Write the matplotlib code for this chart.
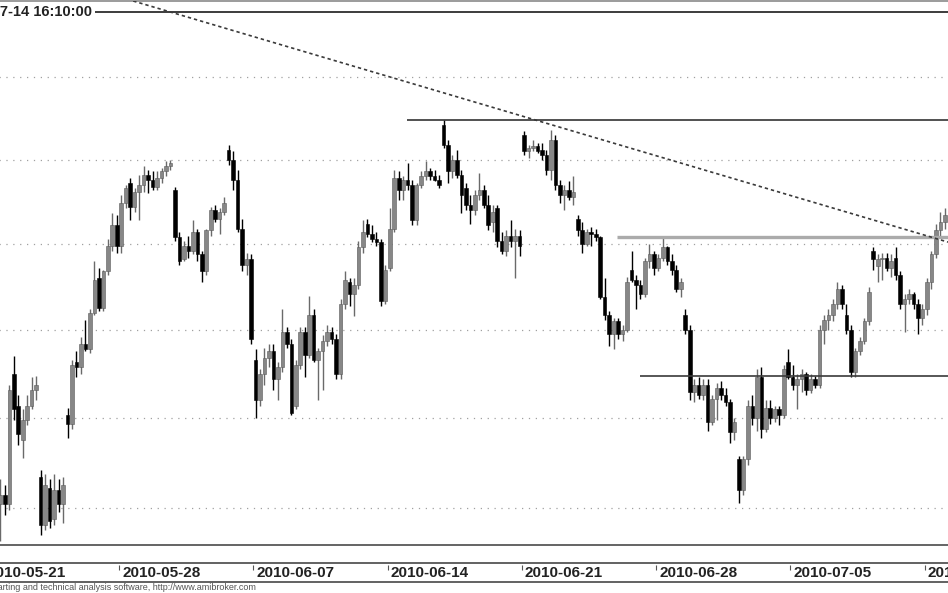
import numpy as np
import matplotlib
matplotlib.use('Agg')
import matplotlib.pyplot as plt
from matplotlib.ticker import NullLocator

plt.rcParams['font.family'] = ['Liberation Sans', 'DejaVu Sans']

# sesje (dni notowan) i liczba swiec na sesje
days = ['2010-05-21', '2010-05-24', '2010-05-25', '2010-05-26', '2010-05-27',
        '2010-05-28', '2010-05-31', '2010-06-01', '2010-06-02', '2010-06-04',
        '2010-06-07', '2010-06-08', '2010-06-09', '2010-06-10', '2010-06-11',
        '2010-06-14', '2010-06-15', '2010-06-16', '2010-06-17', '2010-06-18',
        '2010-06-21', '2010-06-22', '2010-06-23', '2010-06-24', '2010-06-25',
        '2010-06-28', '2010-06-29', '2010-06-30', '2010-07-01', '2010-07-02',
        '2010-07-05', '2010-07-06', '2010-07-07', '2010-07-08', '2010-07-09',
        '2010-07-12']
bars_per_day = 6
tick_dates = ['2010-05-21', '2010-05-28', '2010-06-07', '2010-06-14',
              '2010-06-21', '2010-06-28', '2010-07-05', '2010-07-12']
title_text = '2010-07-14 16:10:00'
footer_text = 'AmiBroker - charting and technical analysis software, http://www.amibroker.com'

# OHLC, po 6 swiec na sesje
opens = [2254, 2249, 2243, 2252, 2257, 2252,
         2325, 2307, 2288, 2299, 2307, 2316,
         2267, 2241, 2261, 2244, 2260, 2252,
         2302, 2297, 2332, 2329, 2342, 2339,
         2360, 2380, 2363, 2384, 2399, 2411,
         2399, 2424, 2436, 2422, 2431, 2435,
         2441, 2438, 2434, 2439, 2443, 2446,
         2432, 2404, 2391, 2399, 2396, 2407,
         2394, 2384, 2408, 2420, 2415, 2419,
         2456, 2450, 2438, 2409, 2388, 2391,
         2333, 2310, 2325, 2334, 2338, 2322,
         2329, 2349, 2342, 2307, 2330, 2349,
         2336, 2359, 2333, 2338, 2344, 2349,
         2345, 2325, 2365, 2378, 2371, 2376,
         2398, 2412, 2406, 2403, 2401, 2367,
         2386, 2409, 2439, 2432, 2438, 2435,
         2414, 2435, 2440, 2443, 2440, 2438,
         2471, 2459, 2443, 2450, 2441, 2433,
         2423, 2420, 2429, 2432, 2423, 2413,
         2421, 2402, 2396, 2405, 2402, 2405,
         2465, 2455, 2457, 2458, 2456, 2453,
         2444, 2462, 2435, 2429, 2432, 2428,
         2415, 2408, 2400, 2407, 2406, 2404,
         2369, 2359, 2348, 2355, 2348, 2350,
         2385, 2379, 2376, 2371, 2390, 2394,
         2386, 2392, 2398, 2390, 2385, 2374,
         2359, 2350, 2315, 2319, 2313, 2319,
         2298, 2311, 2317, 2313, 2309, 2292,
         2277, 2260, 2277, 2307, 2300, 2323,
         2294, 2306, 2300, 2305, 2302, 2332,
         2323, 2319, 2322, 2325, 2316, 2322,
         2319, 2350, 2356, 2359, 2365, 2374,
         2359, 2350, 2326, 2338, 2344, 2355,
         2396, 2387, 2391, 2392, 2386, 2392,
         2382, 2365, 2368, 2371, 2365, 2357,
         2362, 2378, 2394, 2408, 2413, 2417]
highs = [2271, 2260, 2257, 2266, 2263, 2319,
         2335, 2313, 2305, 2313, 2323, 2324,
         2271, 2269, 2266, 2269, 2266, 2267,
         2306, 2333, 2338, 2346, 2356, 2362,
         2390, 2386, 2385, 2403, 2418, 2417,
         2429, 2435, 2439, 2433, 2441, 2446,
         2444, 2443, 2443, 2445, 2449, 2450,
         2434, 2407, 2402, 2405, 2414, 2409,
         2396, 2409, 2422, 2423, 2421, 2428,
         2459, 2455, 2444, 2415, 2395, 2394,
         2339, 2328, 2340, 2342, 2342, 2332,
         2362, 2352, 2345, 2333, 2352, 2352,
         2370, 2362, 2340, 2347, 2353, 2352,
         2348, 2368, 2384, 2380, 2380, 2402,
         2414, 2415, 2411, 2407, 2403, 2388,
         2421, 2444, 2443, 2440, 2448, 2438,
         2436, 2443, 2449, 2445, 2444, 2441,
         2474, 2462, 2453, 2456, 2444, 2436,
         2429, 2432, 2442, 2435, 2429, 2423,
         2423, 2407, 2408, 2414, 2409, 2408,
         2467, 2459, 2462, 2460, 2460, 2456,
         2468, 2465, 2438, 2435, 2437, 2440,
         2417, 2413, 2409, 2410, 2409, 2405,
         2380, 2361, 2357, 2357, 2353, 2381,
         2396, 2382, 2379, 2392, 2400, 2396,
         2394, 2405, 2399, 2394, 2388, 2380,
         2362, 2353, 2322, 2323, 2322, 2322,
         2313, 2320, 2321, 2317, 2311, 2300,
         2279, 2279, 2310, 2313, 2328, 2329,
         2310, 2310, 2307, 2307, 2330, 2339,
         2330, 2325, 2328, 2326, 2325, 2324,
         2353, 2359, 2362, 2368, 2378, 2376,
         2365, 2353, 2340, 2346, 2357, 2375,
         2398, 2394, 2395, 2395, 2394, 2398,
         2384, 2371, 2374, 2372, 2368, 2365,
         2380, 2396, 2412, 2419, 2421, 2420]
lows = [2238, 2235, 2232, 2232, 2246, 2249,
        2299, 2285, 2278, 2296, 2305, 2310,
        2235, 2238, 2239, 2241, 2248, 2242,
        2289, 2294, 2323, 2325, 2338, 2337,
        2359, 2361, 2361, 2382, 2396, 2395,
        2395, 2421, 2414, 2419, 2414, 2431,
        2430, 2432, 2432, 2436, 2440, 2444,
        2402, 2388, 2390, 2392, 2394, 2390,
        2378, 2382, 2405, 2413, 2406, 2417,
        2447, 2432, 2407, 2384, 2382, 2342,
        2300, 2307, 2319, 2329, 2316, 2310,
        2326, 2340, 2302, 2305, 2328, 2323,
        2334, 2332, 2310, 2316, 2341, 2342,
        2322, 2322, 2362, 2364, 2358, 2374,
        2395, 2404, 2401, 2399, 2364, 2365,
        2384, 2407, 2426, 2426, 2432, 2411,
        2411, 2433, 2438, 2438, 2437, 2433,
        2457, 2436, 2439, 2439, 2418, 2420,
        2412, 2417, 2426, 2421, 2408, 2407,
        2398, 2394, 2393, 2398, 2380, 2393,
        2453, 2451, 2455, 2454, 2450, 2441,
        2438, 2432, 2424, 2420, 2426, 2423,
        2405, 2395, 2399, 2399, 2402, 2368,
        2356, 2341, 2339, 2345, 2344, 2349,
        2378, 2362, 2368, 2369, 2386, 2382,
        2384, 2390, 2388, 2382, 2372, 2369,
        2348, 2310, 2309, 2311, 2310, 2293,
        2296, 2299, 2310, 2307, 2286, 2288,
        2253, 2257, 2274, 2296, 2293, 2289,
        2292, 2297, 2298, 2296, 2300, 2322,
        2316, 2305, 2315, 2313, 2314, 2317,
        2317, 2342, 2350, 2355, 2362, 2362,
        2348, 2323, 2323, 2336, 2342, 2353,
        2385, 2378, 2379, 2384, 2381, 2379,
        2362, 2349, 2365, 2362, 2348, 2353,
        2359, 2374, 2392, 2405, 2409, 2405]
closes = [2249, 2243, 2252, 2257, 2252, 2316,
          2305, 2291, 2299, 2307, 2316, 2319,
          2241, 2263, 2243, 2260, 2252, 2263,
          2297, 2330, 2329, 2342, 2339, 2360,
          2379, 2363, 2384, 2399, 2411, 2399,
          2424, 2433, 2422, 2431, 2435, 2441,
          2438, 2434, 2439, 2443, 2446, 2448,
          2404, 2390, 2399, 2396, 2407, 2394,
          2384, 2408, 2420, 2415, 2419, 2424,
          2450, 2438, 2409, 2388, 2391, 2345,
          2310, 2325, 2334, 2338, 2322, 2329,
          2349, 2342, 2303, 2330, 2349, 2336,
          2359, 2333, 2338, 2344, 2349, 2345,
          2325, 2365, 2379, 2371, 2376, 2398,
          2407, 2406, 2403, 2401, 2367, 2385,
          2409, 2439, 2432, 2438, 2435, 2414,
          2435, 2440, 2443, 2440, 2438, 2435,
          2459, 2443, 2450, 2441, 2429, 2423,
          2420, 2429, 2432, 2423, 2411, 2419,
          2402, 2396, 2405, 2402, 2405, 2399,
          2455, 2457, 2458, 2455, 2453, 2444,
          2462, 2435, 2429, 2432, 2428, 2431,
          2408, 2400, 2407, 2406, 2404, 2369,
          2359, 2348, 2355, 2348, 2350, 2378,
          2379, 2376, 2371, 2390, 2394, 2386,
          2392, 2398, 2390, 2385, 2374, 2378,
          2350, 2315, 2319, 2313, 2319, 2298,
          2311, 2317, 2313, 2309, 2292, 2298,
          2260, 2277, 2307, 2300, 2323, 2294,
          2306, 2300, 2305, 2302, 2328, 2323,
          2319, 2322, 2325, 2316, 2322, 2319,
          2350, 2356, 2359, 2365, 2374, 2365,
          2350, 2326, 2338, 2344, 2355, 2372,
          2391, 2391, 2392, 2386, 2390, 2382,
          2365, 2368, 2371, 2365, 2357, 2362,
          2378, 2394, 2408, 2413, 2417, 2409]

grid_levels = [2250, 2300, 2350, 2400, 2450, 2500]

# linie poziome narysowane na wykresie: (od swiecy nr, poziom)
title_line = (24.1, 2540)
resistance = (93.8, 2474)
support_gray = (140.7, 2404)
support_low = (145.9, 2324)

# linia trendu (dwa punkty: nr swiecy, kurs)
trend_bars = [31.95, 211.3]
trend_prices = [2547.5, 2403.8]

o = np.array(opens, dtype=float)
h = np.array(highs, dtype=float)
l = np.array(lows, dtype=float)
c = np.array(closes, dtype=float)
x = np.arange(len(o))
up = c >= o

fig = plt.figure(figsize=(9.48, 5.93), dpi=100)
ax = fig.add_axes([0, 48 / 593, 1, 544 / 593])
ax.set_yscale('log')

x_end = len(o) + 20
ax.hlines(grid_levels, -10, x_end, colors='#a0a0a0', linestyles=(0, (1, 4.5)),
          lw=0.9, zorder=1)

# knoty
ax.vlines(x[up], l[up], h[up], color='#6a6a6a', lw=1.0, zorder=2)
ax.vlines(x[~up], l[~up], h[~up], color='black', lw=1.0, zorder=2)
# korpusy
ax.bar(x[up], (c - o)[up], bottom=o[up], width=0.8, color='#878787',
       edgecolor='#5a5a5a', lw=0.4, zorder=3)
ax.bar(x[~up], (o - c)[~up], bottom=c[~up], width=0.8, color='black',
       edgecolor='black', lw=0.4, zorder=3)

ax.hlines(title_line[1], title_line[0], x_end, colors='#3c3c3c', lw=1.4, zorder=4)
ax.hlines(resistance[1], resistance[0], x_end, colors='#333333', lw=1.2, zorder=4)
ax.hlines(support_gray[1], support_gray[0], x_end, colors='#ababab', lw=2.4, zorder=4)
ax.hlines(support_low[1], support_low[0], x_end, colors='#3a3a3a', lw=1.2, zorder=4)
ax.axline((trend_bars[0], trend_prices[0]), (trend_bars[1], trend_prices[1]),
          color='#3a3a3a', lw=1.2, linestyle=(0, (2.0, 1.8)), zorder=5)

ax.set_xlim(2.92, 214.7)
ax.set_ylim(2229.8, 2546.9)
ax.yaxis.set_minor_locator(NullLocator())
ax.set_xticks([])
ax.set_yticks([])
for side in ['left', 'right']:
    ax.spines[side].set_visible(False)
ax.spines['top'].set_color('#8a8a8a')
ax.spines['top'].set_linewidth(1.2)
ax.spines['bottom'].set_color('#4a4a4a')
ax.spines['bottom'].set_linewidth(1.2)

# pasek z datami
ax2 = fig.add_axes([0, 11 / 593, 1, 19 / 593])
ax2.set_xlim(ax.get_xlim())
ax2.set_ylim(0, 1)
ax2.set_xticks([])
ax2.set_yticks([])
for side in ['left', 'right']:
    ax2.spines[side].set_visible(False)
for side in ['top', 'bottom']:
    ax2.spines[side].set_color('#555555')
    ax2.spines[side].set_linewidth(1.3)

for d in tick_dates:
    pos = days.index(d) * bars_per_day - 0.5
    ax2.vlines(pos, 0.62, 0.9, colors='#555555', lw=0.8)
    ax2.text(pos + 0.7, 0.45, d, ha='left', va='center', fontsize=11,
             fontweight='bold', color='#222222', clip_on=False)

fig.text(92 / 948, 1 - 12 / 593, title_text, ha='right', va='center',
         fontsize=10.5, fontweight='bold', color='#222222')
fig.text(256 / 948, 1 - 588 / 593, footer_text, ha='right', va='center',
         fontsize=6.5, color='#555555')

fig.savefig('out.png', dpi=100)
